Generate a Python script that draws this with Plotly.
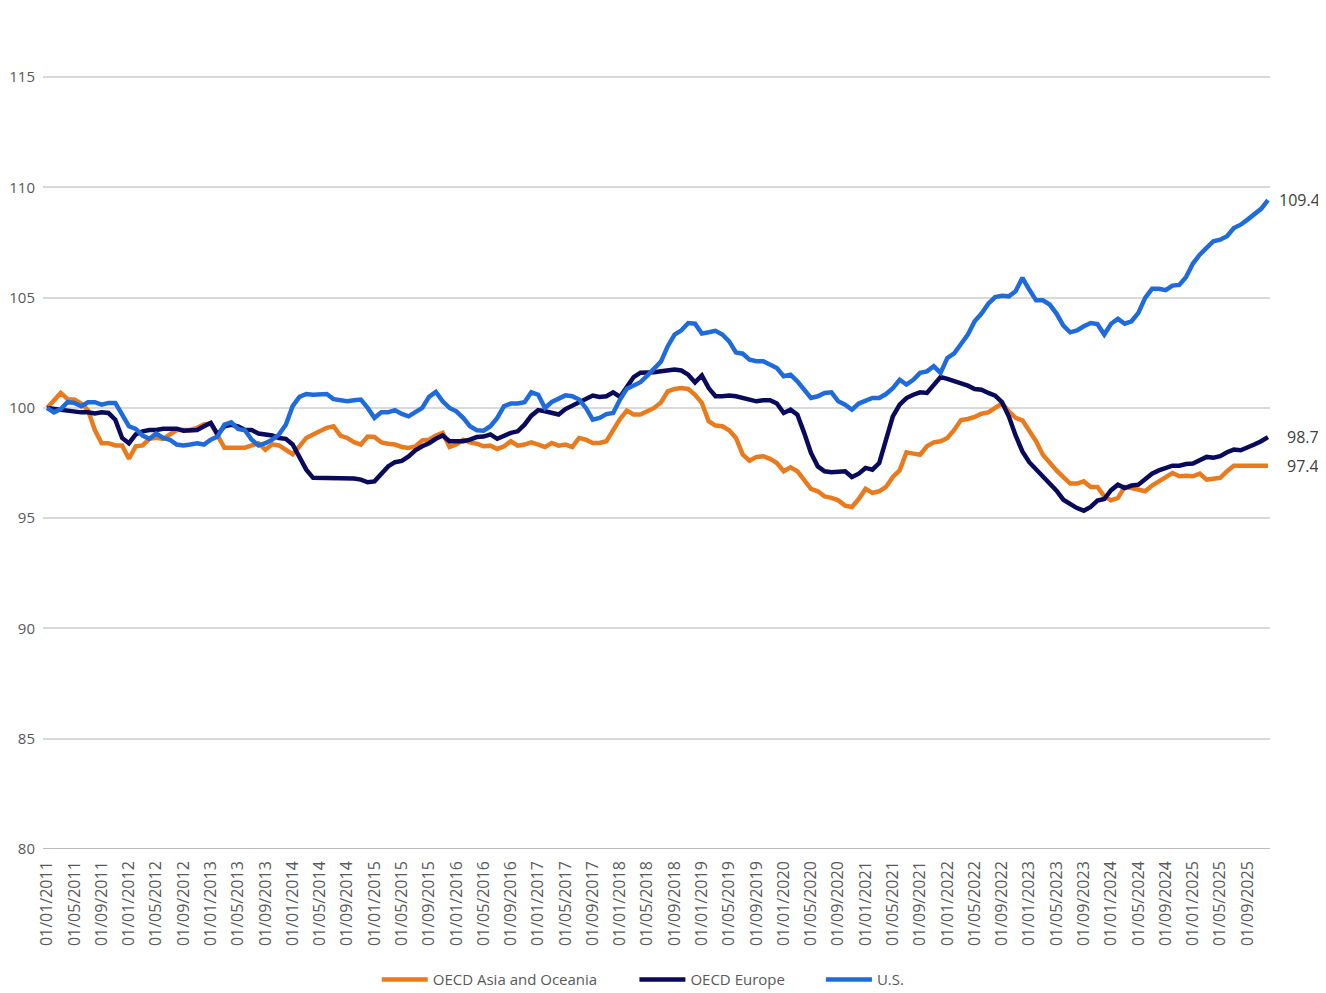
import plotly.graph_objects as go

# Monthly index, 01/2011 = 100
months = [f"01/{m:02d}/{y}" for y in range(2011, 2026) for m in range(1, 13)]

asia = [
    100.0, 100.35, 100.68, 100.4, 100.38, 100.2, 99.9, 99.0, 98.4, 98.4,
    98.3, 98.3, 97.7, 98.26, 98.3, 98.6, 98.65, 98.6, 98.8, 99.0,
    99.0, 99.0, 99.1, 99.25, 99.3, 98.7, 98.2, 98.2, 98.2, 98.2,
    98.3, 98.4, 98.1, 98.35, 98.3, 98.1, 97.9, 98.26, 98.64, 98.8,
    98.94, 99.1, 99.17, 98.75, 98.64, 98.45, 98.34, 98.7, 98.68, 98.44,
    98.38, 98.34, 98.23, 98.19, 98.26, 98.53, 98.56, 98.75, 98.87, 98.23,
    98.34, 98.56, 98.44, 98.38, 98.26, 98.29, 98.14, 98.26, 98.49, 98.29,
    98.34, 98.44, 98.34, 98.23, 98.41, 98.29, 98.34, 98.23, 98.64, 98.56,
    98.41, 98.41, 98.49, 99.02, 99.5, 99.88, 99.7, 99.7, 99.85, 100.0,
    100.25, 100.75, 100.86, 100.9, 100.86, 100.6, 100.23, 99.4, 99.2, 99.17,
    98.99, 98.64, 97.88, 97.61, 97.78, 97.81, 97.69, 97.5, 97.13, 97.31,
    97.13, 96.75, 96.33, 96.22, 95.99, 95.92, 95.81, 95.57, 95.51, 95.87,
    96.33, 96.15, 96.22, 96.42, 96.87, 97.17, 97.99, 97.93, 97.88, 98.26,
    98.44, 98.49, 98.64, 99.0, 99.45, 99.5, 99.59, 99.74, 99.8, 100.0,
    100.2, 99.85, 99.55, 99.44, 98.94, 98.49, 97.88, 97.51, 97.17, 96.86,
    96.57, 96.57, 96.67, 96.42, 96.42, 95.99, 95.81, 95.92, 96.42, 96.37,
    96.3, 96.22, 96.48, 96.67, 96.86, 97.05, 96.9, 96.93, 96.9, 97.02,
    96.75, 96.78, 96.83, 97.13, 97.38, 97.38, 97.38, 97.38, 97.38, 97.38,
]

europe = [
    100.0, 99.95, 99.9, 99.85, 99.85, 99.8, 99.8, 99.75, 99.8, 99.77,
    99.47, 98.64, 98.4, 98.8, 98.94, 99.0, 99.0, 99.06, 99.06, 99.06,
    98.97, 98.97, 99.0, 99.17, 99.32, 98.8, 99.17, 99.24, 99.17, 99.0,
    99.0, 98.84, 98.8, 98.75, 98.64, 98.6, 98.34, 97.8, 97.2, 96.83,
    96.83, 96.83, 96.83, 96.83, 96.83, 96.8, 96.75, 96.63, 96.67, 96.98,
    97.35, 97.54, 97.6, 97.8, 98.08, 98.26, 98.4, 98.6, 98.75, 98.49,
    98.49, 98.49, 98.56, 98.68, 98.7, 98.8, 98.6, 98.75, 98.87, 98.94,
    99.24, 99.65, 99.9, 99.85, 99.77, 99.7, 99.95, 100.1, 100.3, 100.45,
    100.56, 100.5, 100.53, 100.71, 100.5, 100.95, 101.4, 101.6, 101.59, 101.62,
    101.66, 101.7, 101.74, 101.7, 101.51, 101.16, 101.47, 100.9, 100.53, 100.53,
    100.56, 100.53, 100.45, 100.4, 100.3, 100.35, 100.35, 100.2, 99.77, 99.92,
    99.7, 98.87, 97.96, 97.35, 97.13, 97.08, 97.08, 97.13, 96.87, 97.02,
    97.28, 97.2, 97.5, 98.56, 99.62, 100.15, 100.45, 100.6, 100.71, 100.68,
    101.06, 101.4, 101.32, 101.22, 101.1, 101.01, 100.86, 100.83, 100.68, 100.56,
    100.26, 99.62, 98.75, 98.03, 97.54, 97.23, 96.9, 96.57, 96.25, 95.84,
    95.62, 95.46, 95.34, 95.51, 95.8, 95.87, 96.27, 96.52, 96.37, 96.48,
    96.52, 96.75, 97.02, 97.17, 97.28, 97.38, 97.38, 97.46, 97.48, 97.63,
    97.78, 97.74, 97.81, 97.99, 98.11, 98.08, 98.19, 98.34, 98.49, 98.68,
]

us = [
    100.0, 99.8, 99.95, 100.26, 100.23, 100.08, 100.26, 100.26, 100.15, 100.23,
    100.23, 99.7, 99.17, 99.05, 98.75, 98.6, 98.84, 98.64, 98.56, 98.34,
    98.3, 98.34, 98.4, 98.34, 98.56, 98.7, 99.24, 99.35, 99.05, 98.99,
    98.56, 98.3, 98.4, 98.56, 98.8, 99.24, 100.08, 100.5, 100.63, 100.6,
    100.6, 100.63, 100.4, 100.35, 100.3, 100.35, 100.38, 100.0, 99.55, 99.8,
    99.8, 99.9, 99.73, 99.62, 99.8, 100.0, 100.5, 100.73, 100.3, 100.0,
    99.85, 99.55, 99.17, 98.99, 98.97, 99.17, 99.55, 100.08, 100.2, 100.2,
    100.26, 100.71, 100.6, 100.0, 100.27, 100.4, 100.57, 100.53, 100.38, 100.0,
    99.47, 99.55, 99.72, 99.77, 100.38, 100.87, 101.03, 101.17, 101.47, 101.79,
    102.1, 102.8, 103.33, 103.52, 103.85, 103.82, 103.37, 103.43, 103.5, 103.33,
    103.02, 102.52, 102.46, 102.19, 102.12, 102.12, 101.97, 101.81, 101.44, 101.51,
    101.21, 100.86, 100.45, 100.53, 100.68, 100.71, 100.3, 100.15, 99.92, 100.2,
    100.35, 100.45, 100.45, 100.63, 100.9, 101.28, 101.06, 101.28, 101.59, 101.66,
    101.89, 101.59, 102.27, 102.48, 102.9, 103.33, 103.93, 104.28, 104.73, 105.03,
    105.09, 105.06, 105.29, 105.9, 105.37, 104.88, 104.88, 104.69, 104.28, 103.73,
    103.43, 103.52, 103.7, 103.85, 103.8, 103.33, 103.82, 104.04, 103.82, 103.93,
    104.31, 104.99, 105.4, 105.4, 105.34, 105.55, 105.58, 105.94, 106.55, 106.95,
    107.26, 107.56, 107.63, 107.79, 108.16, 108.31, 108.54, 108.81, 109.03, 109.42,
]

GREY = "#595959"

# name, values, colour, legend id, legend x, label shift
series = [
    ("OECD Asia and Oceania", asia, "#E87B1E", "legend", 0.272, 17),
    ("OECD Europe", europe, "#0A0A5C", "legend2", 0.482, 17),
    ("U.S.", us, "#1F6BDB", "legend3", 0.634, 9),
]

fig = go.Figure()
legends = {}
for name, vals, color, leg, lx, shift in series:
    fig.add_trace(go.Scatter(
        x=months, y=vals, mode="lines", name=name, legend=leg,
        line=dict(color=color, width=4.5),
    ))
    legends[leg] = dict(
        orientation="h", x=lx, xanchor="left", y=-0.156, yanchor="middle",
        font=dict(family="Open Sans", size=15, color=GREY),
        itemwidth=46, bgcolor="rgba(0,0,0,0)",
    )
    # end-of-line value label
    fig.add_annotation(
        x=months[-1], y=vals[-1], text=f"{vals[-1]:.1f}",
        showarrow=False, xanchor="left", xshift=shift,
        font=dict(family="Open Sans", size=16, color="#404040"),
    )

fig.update_layout(
    width=1326, height=993,
    margin=dict(l=35, r=64, t=3, b=152),
    plot_bgcolor="white", paper_bgcolor="white",
    font=dict(family="Open Sans", size=13, color=GREY),
    showlegend=True,
    **legends,
    xaxis=dict(
        type="category", range=[-0.6, len(months) - 0.7],
        tickvals=months[::4], ticktext=months[::4], tickangle=-90,
        showgrid=False, showline=False, ticks="", zeroline=False,
        ticklabelstandoff=8, automargin=False,
        tickfont=dict(size=16, color=GREY),
    ),
    yaxis=dict(
        range=[80, 118], dtick=5, tick0=80,
        showgrid=True, gridcolor="#D9D9D9", gridwidth=1.5,
        zeroline=False, showline=False, ticks="",
        ticklabelstandoff=7, automargin=False,
        tickfont=dict(size=15, color=GREY),
    ),
)
# baseline axis line at 80
fig.add_shape(type="line", xref="paper", yref="y", x0=0, x1=1, y0=80, y1=80,
              line=dict(color="#A6A6A6", width=1.5), layer="below")

fig.write_html("out.html")
